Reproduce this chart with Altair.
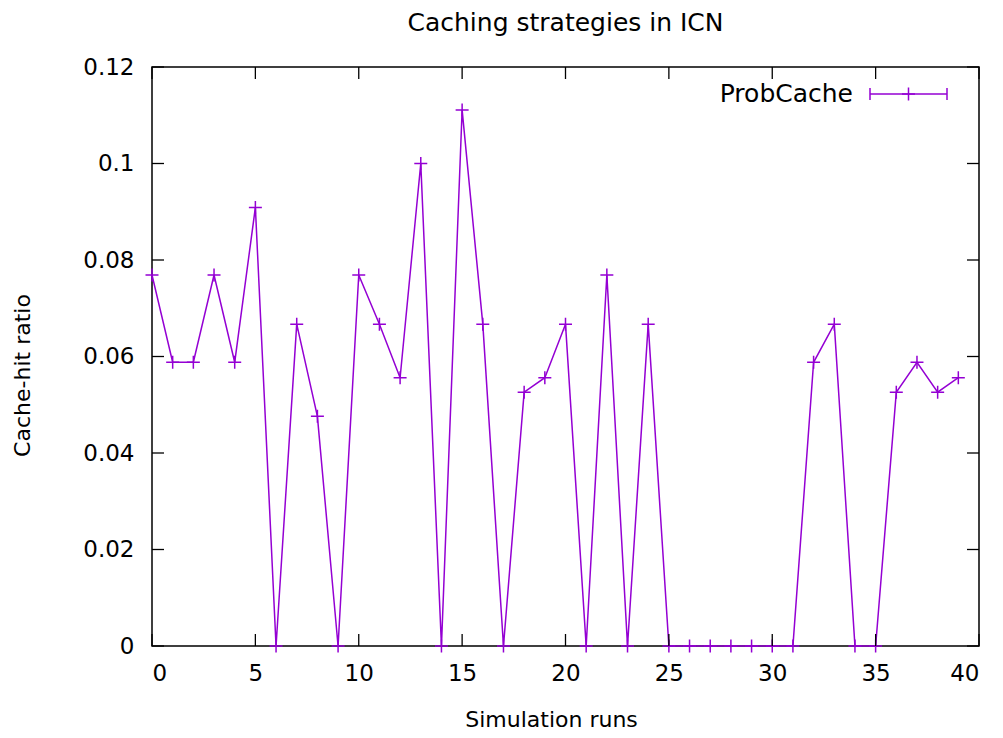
import altair as alt
import pandas as pd

# ---- data ----
runs = list(range(40))
hit_ratio = [0.0769, 0.0588, 0.0588, 0.0769, 0.0588, 0.0909, 0.0, 0.0667, 0.0476, 0.0,
             0.0769, 0.0667, 0.0556, 0.1000, 0.0, 0.1111, 0.0667, 0.0, 0.0526, 0.0556,
             0.0667, 0.0, 0.0769, 0.0, 0.0667, 0.0, 0.0, 0.0, 0.0, 0.0,
             0.0, 0.0, 0.0588, 0.0667, 0.0, 0.0, 0.0526, 0.0588, 0.0526, 0.0556]
series_name = "ProbCache"
x_ticks = [0, 5, 10, 15, 20, 25, 30, 35, 40]
y_ticks = [0, 0.02, 0.04, 0.06, 0.08, 0.1, 0.12]

W, H = 827, 579
PURPLE = "#9400D3"
FONT = "DejaVu Sans"
TICK = 12

df = pd.DataFrame({"run": runs, "ratio": hit_ratio})
xt = pd.DataFrame({"run": x_ticks})
yt = pd.DataFrame({"ratio": y_ticks})
leg = pd.DataFrame({"name": [series_name]})

xscale = alt.Scale(domain=[0, 40], nice=False, zero=False)
yscale = alt.Scale(domain=[0, 0.12], nice=False)

plus_path = "M-1,0L1,0M0,-1L0,1"
vbar_path = "M0,-1L0,1"

x_axis = alt.Axis(values=x_ticks, labelExpr="'' + datum.value", ticks=False, tickSize=0,
                  domain=False, grid=False, labelFontSize=23, labelFont=FONT,
                  labelColor="black", labelPadding=16, titleFontSize=22, titleFont=FONT,
                  titleFontWeight="normal", titleColor="black", titlePadding=24, titleX=399)
y_axis = alt.Axis(values=y_ticks, labelExpr="'' + datum.value", ticks=False, tickSize=0,
                  domain=False, grid=False, labelFontSize=23, labelFont=FONT,
                  labelColor="black", labelPadding=18, titleFontSize=22, titleFont=FONT,
                  titleFontWeight="normal", titleColor="black", titlePadding=48, titleY=308)
x_enc = alt.X("run:Q", scale=xscale, title="Simulation runs", axis=x_axis)
y_enc = alt.Y("ratio:Q", scale=yscale, title="Cache-hit ratio", axis=y_axis)

line = alt.Chart(df).mark_line(color=PURPLE, strokeWidth=1.5).encode(x=x_enc, y=y_enc)
pts = alt.Chart(df).mark_point(shape=plus_path, size=169, color=PURPLE, filled=False,
                               strokeWidth=1.5, opacity=1).encode(x=x_enc, y=y_enc)

bottom_ticks = alt.Chart(xt).mark_rule(color="black", strokeWidth=1.3).encode(
    x=x_enc, y=alt.value(H), y2=alt.value(H - TICK))
top_ticks = alt.Chart(xt).mark_rule(color="black", strokeWidth=1.3).encode(
    x=x_enc, y=alt.value(0), y2=alt.value(TICK))
left_ticks = alt.Chart(yt).mark_rule(color="black", strokeWidth=1.3).encode(
    y=y_enc, x=alt.value(0), x2=alt.value(TICK))
right_ticks = alt.Chart(yt).mark_rule(color="black", strokeWidth=1.3).encode(
    y=y_enc, x=alt.value(W - TICK), x2=alt.value(W))

# legend (gnuplot style: label left, sample right)
leg_y = 27
leg_x1, leg_x2 = 718, 795
leg_text = alt.Chart(leg).mark_text(align="right", baseline="middle", fontSize=25, font=FONT,
                                    color="black").encode(
    text="name:N", x=alt.value(701), y=alt.value(leg_y))
leg_line = alt.Chart(leg).mark_rule(color=PURPLE, strokeWidth=1.5).encode(
    x=alt.value(leg_x1), x2=alt.value(leg_x2), y=alt.value(leg_y))
leg_end1 = alt.Chart(leg).mark_point(shape=vbar_path, size=144, color=PURPLE, filled=False,
                                     strokeWidth=1.5, opacity=1).encode(
    x=alt.value(leg_x1), y=alt.value(leg_y))
leg_end2 = alt.Chart(leg).mark_point(shape=vbar_path, size=144, color=PURPLE, filled=False,
                                     strokeWidth=1.5, opacity=1).encode(
    x=alt.value(leg_x2), y=alt.value(leg_y))
leg_mid = alt.Chart(leg).mark_point(shape=plus_path, size=169, color=PURPLE, filled=False,
                                    strokeWidth=1.5, opacity=1).encode(
    x=alt.value((leg_x1 + leg_x2) / 2), y=alt.value(leg_y))

chart = alt.layer(
    line, pts, bottom_ticks, top_ticks, left_ticks, right_ticks,
    leg_text, leg_line, leg_end1, leg_end2, leg_mid
).properties(
    width=W, height=H,
    background="white",
    title=alt.TitleParams("Caching strategies in ICN", fontSize=25, font=FONT,
                          fontWeight="normal", color="black", anchor="middle", offset=20),
    autosize=alt.AutoSizeParams(type="none"),
    padding={"left": 144, "top": 59, "right": 16, "bottom": 92},
).configure_view(stroke="black", strokeWidth=1.5)

chart.save("out.html", embed_options={"renderer": "svg", "actions": False})
